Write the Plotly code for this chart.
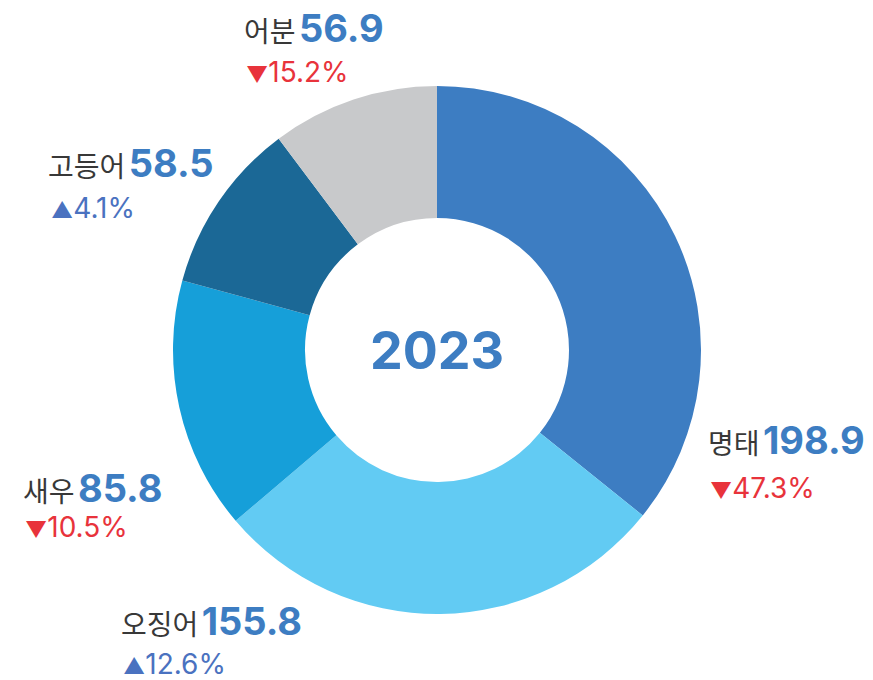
import plotly.graph_objects as go

categories = ["명태", "오징어", "새우", "고등어", "어분"]
values = [198.9, 155.8, 85.8, 58.5, 56.9]
changes = [-47.3, 12.6, -10.5, 4.1, -15.2]
colors = ["#3d7dc2", "#62cbf3", "#169fd9", "#1b6896", "#c8c9cb"]
center_label = "2023"

# page has an 8px body margin at top-left; figure fills the rest of the viewport
OFF = 8
W, H = 873 - OFF, 680 - OFF

def px(x):
    return (x - OFF) / W

def py(y):
    return 1 - (y - OFF) / H

# label anchor positions in screen pixels (left edge / vertical middle)
label_pos = {
    "명태": (706, 440, 708, 488),
    "오징어": (119, 621, 121, 664),
    "새우": (21, 488, 23, 527),
    "고등어": (46, 163, 49, 208),
    "어분": (242, 28, 244, 72),
}

CX, CY, R = 437, 350, 264
fig = go.Figure(go.Pie(
    labels=categories, values=values, hole=0.5, sort=False,
    direction="clockwise", rotation=0,
    marker=dict(colors=colors, line=dict(width=0)),
    textinfo="none", hoverinfo="label+value", showlegend=False,
    domain=dict(x=[px(CX - R), px(CX + R)], y=[py(CY + R), py(CY - R)]),
))

FONT = "Inter, Noto Sans CJK KR, sans-serif"
ann = []
for cat, val, ch in zip(categories, values, changes):
    x1, y1, x2, y2 = label_pos[cat]
    ann.append(dict(
        x=px(x1), y=py(y1), xref="paper", yref="paper", xanchor="left", yanchor="middle",
        showarrow=False,
        text=f"<span style='font-size:28px;color:#383838'>{cat}</span> "
             f"<span style='font-size:38px;color:#3d7dc2'><b>{val}</b></span>",
        font=dict(family=FONT),
    ))
    if ch < 0:
        sym, col = "▼", "#e8333b"
    else:
        sym, col = "▲", "#4a72c0"
    ann.append(dict(
        x=px(x2), y=py(y2), xref="paper", yref="paper", xanchor="left", yanchor="middle",
        showarrow=False,
        text=f"<span style='font-size:22px'>{sym}</span><span style='font-size:28px'>{abs(ch)}%</span>",
        font=dict(family=FONT, color=col),
    ))

ann.append(dict(
    x=px(CX), y=py(CY), xref="paper", yref="paper", xanchor="center", yanchor="middle",
    showarrow=False, text=f"<b>{center_label}</b>",
    font=dict(family=FONT, size=52, color="#3d7dc2"),
))

fig.update_layout(
    width=W, height=H, margin=dict(l=0, r=0, t=0, b=0),
    paper_bgcolor="white", plot_bgcolor="white",
    annotations=ann,
)
fig.write_html("out.html")
